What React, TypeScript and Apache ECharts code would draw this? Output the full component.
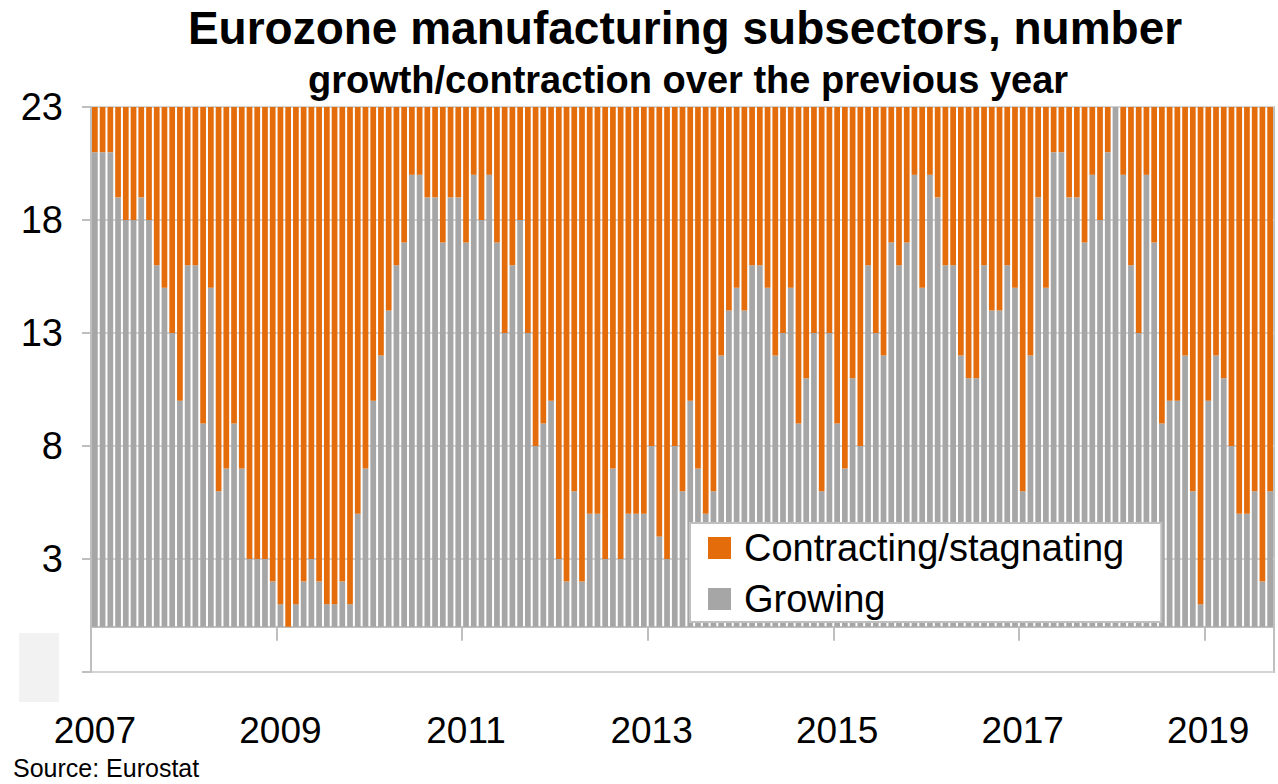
import React, { useEffect, useRef } from "react";
import * as echarts from "echarts";

// Number of manufacturing subsectors (out of 23) growing over the previous year, monthly
const growing2007 = [21, 21, 21, 19, 18, 18, 19, 18, 16, 15, 13, 10];
const growing2008 = [16, 16, 9, 15, 6, 7, 9, 7, 3, 3, 3, 2];
const growing2009 = [1, 0, 1, 2, 3, 2, 1, 1, 2, 1, 5, 7];
const growing2010 = [10, 12, 14, 16, 17, 20, 20, 19, 19, 17, 19, 19];
const growing2011 = [17, 20, 18, 20, 17, 13, 16, 18, 13, 8, 9, 10];
const growing2012 = [3, 2, 6, 2, 5, 5, 3, 7, 3, 5, 5, 5];
const growing2013 = [8, 4, 3, 8, 6, 10, 7, 5, 6, 12, 14, 15];
const growing2014 = [14, 16, 16, 15, 12, 13, 15, 9, 11, 13, 6, 13];
const growing2015 = [9, 7, 11, 8, 16, 13, 12, 17, 16, 17, 20, 15];
const growing2016 = [20, 19, 16, 16, 12, 11, 11, 16, 14, 14, 16, 15];
const growing2017 = [6, 12, 19, 15, 21, 21, 19, 19, 17, 20, 18, 21];
const growing2018 = [23, 20, 16, 13, 20, 17, 9, 10, 10, 12, 6, 1];
const growing2019 = [10, 12, 11, 8, 5, 5, 6, 2, 6];

const TOTAL_SUBSECTORS = 23;
const years = [2007, 2008, 2009, 2010, 2011, 2012, 2013, 2014, 2015, 2016, 2017, 2018, 2019];
const growingByYear = [
  growing2007, growing2008, growing2009, growing2010, growing2011, growing2012, growing2013,
  growing2014, growing2015, growing2016, growing2017, growing2018, growing2019,
];
const yTicks = [-2, 3, 8, 13, 18, 23];

const growing = growingByYear.flat();
const contracting = growing.map((g) => TOTAL_SUBSECTORS - g);
const months = years.flatMap((y, i) =>
  growingByYear[i].map((_, m) => `${y}-${String(m + 1).padStart(2, "0")}`)
);

const FONT = '"Liberation Sans", Arial, sans-serif';
const ORANGE = "#E46C0A";
const GRAY = "#A6A6A6";
const LINE = "#BFBFBF";

export default function App() {
  const ref = useRef<HTMLDivElement>(null);

  useEffect(() => {
    if (!ref.current) return;
    const chart = echarts.init(ref.current, undefined, { renderer: "svg" });
    chart.setOption({
      animation: false,
      backgroundColor: "#fff",
      title: [
        {
          text: "Eurozone manufacturing subsectors, number",
          left: 680,
          top: 0,
          textAlign: "center",
          textStyle: { fontFamily: FONT, fontSize: 46, fontWeight: "bold", color: "#000" },
        },
        {
          text: "growth/contraction over the previous year",
          left: 683,
          top: 56,
          textAlign: "center",
          textStyle: { fontFamily: FONT, fontSize: 38, fontWeight: "bold", color: "#000" },
        },
      ],
      legend: {
        data: ["Contracting/stagnating", "Growing"],
        orient: "vertical",
        left: 690,
        top: 523,
        icon: "rect",
        itemWidth: 23,
        itemHeight: 22,
        itemGap: 11,
        selectedMode: false,
        backgroundColor: "#fff",
        borderColor: "#C0C0C0",
        borderWidth: 2,
        padding: [5, 37, 3, 18],
        textStyle: {
          fontFamily: FONT,
          fontSize: 38,
          color: "#000",
          lineHeight: 40,
          padding: [0, 0, 0, 8],
        },
        z: 10,
      },
      grid: {
        left: 91,
        right: 4,
        top: 107,
        bottom: 112,
        show: true,
        borderColor: LINE,
        borderWidth: 2,
        backgroundColor: "transparent",
        outerBoundsMode: "none",
        containLabel: false,
      },
      xAxis: {
        type: "category",
        data: months,
        boundaryGap: true,
        axisLine: { show: true, onZero: true, lineStyle: { color: LINE, width: 2 } },
        axisTick: {
          show: true,
          interval: (i: number) => i % 24 === 0,
          length: 14,
          lineStyle: { color: LINE, width: 2 },
        },
        axisLabel: {
          interval: (i: number) => i % 24 === 0,
          formatter: (v: string) => v.slice(0, 4),
          margin: 40,
          fontFamily: FONT,
          fontSize: 37,
          color: "#000",
        },
        splitLine: { show: false },
      },
      yAxis: {
        type: "value",
        min: yTicks[0],
        max: yTicks[yTicks.length - 1],
        interval: 5,
        axisLine: { show: true, lineStyle: { color: LINE, width: 2 } },
        axisTick: { show: true, length: 9, lineStyle: { color: LINE, width: 2 } },
        axisLabel: {
          margin: 28,
          fontFamily: FONT,
          fontSize: 38,
          color: "#000",
          formatter: (v: number) => (v === yTicks[0] ? "" : String(v)),
        },
        splitLine: { show: true, lineStyle: { color: "#D4D4D4", width: 2 } },
      },
      series: [
        {
          name: "Growing",
          type: "bar",
          stack: "total",
          data: growing,
          barCategoryGap: "26%",
          itemStyle: { color: GRAY },
          silent: true,
        },
        {
          name: "Contracting/stagnating",
          type: "bar",
          stack: "total",
          data: contracting,
          barCategoryGap: "26%",
          itemStyle: { color: ORANGE },
          silent: true,
        },
      ],
      graphic: [
        {
          type: "rect",
          shape: { x: 19, y: 633, width: 40, height: 69 },
          style: { fill: "#F2F2F2" },
          z: 100,
        },
        {
          type: "text",
          x: 13,
          y: 768,
          style: {
            text: "Source: Eurostat",
            fontFamily: FONT,
            fontSize: 25,
            fill: "#000",
            verticalAlign: "middle",
          },
          z: 100,
        },
      ],
    });
    return () => chart.dispose();
  }, []);

  return (
    <div
      ref={ref}
      style={{ position: "absolute", left: 0, top: 0, width: 1278, height: 784 }}
    />
  );
}
